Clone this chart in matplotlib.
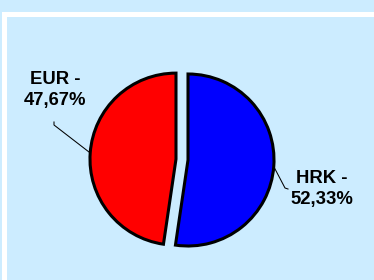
import matplotlib
matplotlib.use("Agg")
import matplotlib.pyplot as plt
from matplotlib.patches import Rectangle

categories = ["HRK", "EUR"]
values = [52.33, 47.67]
colors = ["#0000FF", "#FF0000"]
explode = [0.0, 0.14]  # fraction of radius

BG = "#CCECFF"
W, H = 374, 280
R = 86
fig = plt.figure(figsize=(W / 100, H / 100), dpi=100)
fig.patch.set_facecolor(BG)

ax = fig.add_axes([0, 0, 1, 1])
ax.patch.set_alpha(0)
ax.pie(values, colors=colors, explode=[e * R for e in explode], startangle=90,
       counterclock=False, center=(188, 120), radius=R,
       wedgeprops=dict(edgecolor="black", linewidth=2.2))
ax.set_xlim(0, W)
ax.set_ylim(0, H)
ax.set_aspect("equal")
ax.axis("off")

# white frame (open at right/bottom edges)
ax.add_patch(Rectangle((2, -10), W + 10, H - 12 + 10, facecolor="white",
                       edgecolor="none", zorder=-2))
ax.add_patch(Rectangle((7, -10), W + 10, H - 17 + 10, facecolor=BG,
                       edgecolor="none", zorder=-1))

font = dict(family=["Liberation Sans", "DejaVu Sans"], fontweight="bold", fontsize=13.3)

def lab(i):
    return f"{categories[i]} -\n{values[i]:.2f}".replace(".", ",") + "%"

ax.text(55, 190, lab(1), ha="center", va="center", linespacing=1.35, **font)
ax.text(322, 91, lab(0), ha="center", va="center", linespacing=1.35, **font)

# leader lines
ax.plot([54, 54, 89], [158, 155, 128], color="black", lw=0.75)
ax.plot([274, 285, 288], [113, 92, 91], color="black", lw=0.75)

fig.savefig("out.png", dpi=100, facecolor=BG)
